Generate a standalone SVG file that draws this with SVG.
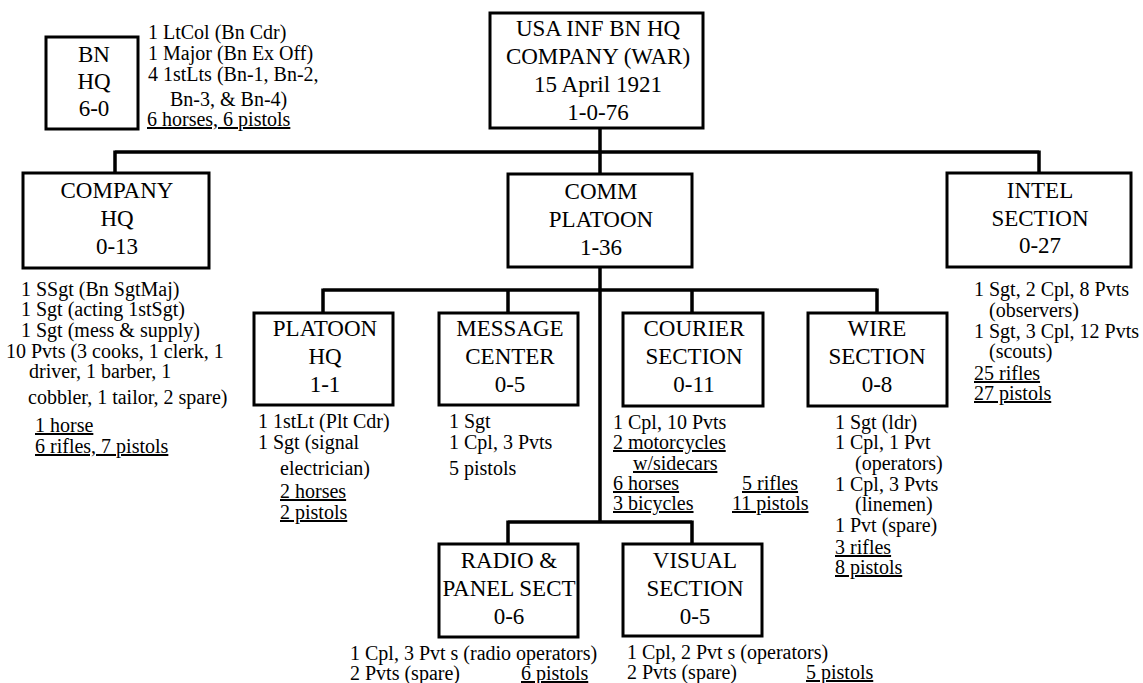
<svg xmlns="http://www.w3.org/2000/svg" width="1143" height="683" viewBox="0 0 1143 683">
<style>
text{font-family:'Liberation Serif','Times New Roman',serif;fill:#000}
.b{fill:#fff;stroke:#000;stroke-width:3}
.t{font-size:23px;text-anchor:middle}
.n{font-size:20px}
.u{text-decoration:underline}
.c{fill:none;stroke:#000;stroke-width:3.5}
</style>
<rect width="1143" height="683" fill="#fff"/>
<g id="connectors">
<path class="c" d="M600 128V174M115 152H1039M115 150.5V173M1039 150.5V173"/>
<path class="c" d="M600 267V522M323 290H877M323 288.5V313M508 288.5V313M692 288.5V313M877 288.5V313"/>
<path class="c" d="M508 522H692M508 520.5V544M692 520.5V544"/>
</g>
<g id="main">
<rect class="b" x="490" y="13" width="213" height="115"/>
<text class="t" x="598" y="36">USA INF BN HQ</text>
<text class="t" x="598" y="64">COMPANY (WAR)</text>
<text class="t" x="598" y="92">15 April 1921</text>
<text class="t" x="598" y="120">1-0-76</text>
</g>
<g id="bnhq">
<rect class="b" x="46" y="37" width="92" height="92"/>
<text class="t" x="94" y="62">BN</text>
<text class="t" x="94" y="89">HQ</text>
<text class="t" x="94" y="116">6-0</text>
<text class="n" x="148" y="39">1 LtCol (Bn Cdr)</text>
<text class="n" x="148" y="60">1 Major (Bn Ex Off)</text>
<text class="n" x="148" y="81">4 1stLts (Bn-1, Bn-2,</text>
<text class="n" x="170" y="106">Bn-3, &amp; Bn-4)</text>
<text class="n u" x="147" y="126">6 horses, 6 pistols</text>
</g>
<g id="companyhq">
<rect class="b" x="23" y="173" width="186" height="95"/>
<text class="t" x="117" y="198">COMPANY</text>
<text class="t" x="117" y="226">HQ</text>
<text class="t" x="117" y="254">0-13</text>
<text class="n" x="21" y="296">1 SSgt (Bn SgtMaj)</text>
<text class="n" x="21" y="316">1 Sgt (acting 1stSgt)</text>
<text class="n" x="21" y="337">1 Sgt (mess &amp; supply)</text>
<text class="n" x="6" y="358">10 Pvts (3 cooks, 1 clerk, 1</text>
<text class="n" x="29" y="378">driver, 1 barber, 1</text>
<text class="n" x="28" y="404">cobbler, 1 tailor, 2 spare)</text>
<text class="n u" x="35" y="432">1 horse</text>
<text class="n u" x="35" y="453">6 rifles, 7 pistols</text>
</g>
<g id="commplatoon">
<rect class="b" x="508" y="174" width="184" height="93"/>
<text class="t" x="601" y="199">COMM</text>
<text class="t" x="601" y="227">PLATOON</text>
<text class="t" x="601" y="255">1-36</text>
</g>
<g id="intel">
<rect class="b" x="947" y="173" width="184" height="94"/>
<text class="t" x="1040" y="198">INTEL</text>
<text class="t" x="1040" y="226">SECTION</text>
<text class="t" x="1040" y="253">0-27</text>
<text class="n" x="974" y="296">1 Sgt, 2 Cpl, 8 Pvts</text>
<text class="n" x="989" y="317">(observers)</text>
<text class="n" x="974" y="338">1 Sgt, 3 Cpl, 12 Pvts</text>
<text class="n" x="989" y="358">(scouts)</text>
<text class="n u" x="974" y="380">25 rifles</text>
<text class="n u" x="974" y="400">27 pistols</text>
</g>
<g id="platoonhq">
<rect class="b" x="254" y="313" width="139" height="92"/>
<text class="t" x="325" y="336">PLATOON</text>
<text class="t" x="325" y="364">HQ</text>
<text class="t" x="325" y="392">1-1</text>
<text class="n" x="258" y="428">1 1stLt (Plt Cdr)</text>
<text class="n" x="258" y="449">1 Sgt (signal</text>
<text class="n" x="280" y="475">electrician)</text>
<text class="n u" x="280" y="498">2 horses</text>
<text class="n u" x="280" y="519">2 pistols</text>
</g>
<g id="messagecenter">
<rect class="b" x="439" y="313" width="139" height="92"/>
<text class="t" x="510" y="336">MESSAGE</text>
<text class="t" x="510" y="364">CENTER</text>
<text class="t" x="510" y="392">0-5</text>
<text class="n" x="449" y="428">1 Sgt</text>
<text class="n" x="449" y="449">1 Cpl, 3 Pvts</text>
<text class="n" x="449" y="475">5 pistols</text>
</g>
<g id="courier">
<rect class="b" x="623" y="313" width="140" height="93"/>
<text class="t" x="694" y="336">COURIER</text>
<text class="t" x="694" y="364">SECTION</text>
<text class="t" x="694" y="392">0-11</text>
<text class="n" x="613" y="429">1 Cpl, 10 Pvts</text>
<text class="n u" x="613" y="449">2 motorcycles</text>
<text class="n u" x="633" y="470">w/sidecars</text>
<text class="n u" x="613" y="490">6 horses</text>
<text class="n u" x="613" y="510">3 bicycles</text>
<text class="n u" x="742" y="490">5 rifles</text>
<text class="n u" x="732" y="510">11 pistols</text>
</g>
<g id="wire">
<rect class="b" x="808" y="313" width="139" height="93"/>
<text class="t" x="877" y="336">WIRE</text>
<text class="t" x="877" y="364">SECTION</text>
<text class="t" x="877" y="392">0-8</text>
<text class="n" x="835" y="429">1 Sgt (ldr)</text>
<text class="n" x="835" y="449">1 Cpl, 1 Pvt</text>
<text class="n" x="855" y="470">(operators)</text>
<text class="n" x="835" y="491">1 Cpl, 3 Pvts</text>
<text class="n" x="855" y="511">(linemen)</text>
<text class="n" x="835" y="532">1 Pvt (spare)</text>
<text class="n u" x="835" y="554">3 rifles</text>
<text class="n u" x="835" y="574">8 pistols</text>
</g>
<g id="radio">
<rect class="b" x="439" y="544" width="139" height="93"/>
<text class="t" x="509" y="568">RADIO &amp;</text>
<text class="t" x="509" y="596">PANEL SECT</text>
<text class="t" x="509" y="624">0-6</text>
<text class="n" x="350" y="660">1 Cpl, 3 Pvt s (radio operators)</text>
<text class="n" x="350" y="680">2 Pvts (spare)</text>
<text class="n u" x="521" y="680">6 pistols</text>
</g>
<g id="visual">
<rect class="b" x="623" y="544" width="139" height="92"/>
<text class="t" x="695" y="568">VISUAL</text>
<text class="t" x="695" y="596">SECTION</text>
<text class="t" x="695" y="624">0-5</text>
<text class="n" x="627" y="659">1 Cpl, 2 Pvt s (operators)</text>
<text class="n" x="627" y="679">2 Pvts (spare)</text>
<text class="n u" x="806" y="679">5 pistols</text>
</g>
</svg>
